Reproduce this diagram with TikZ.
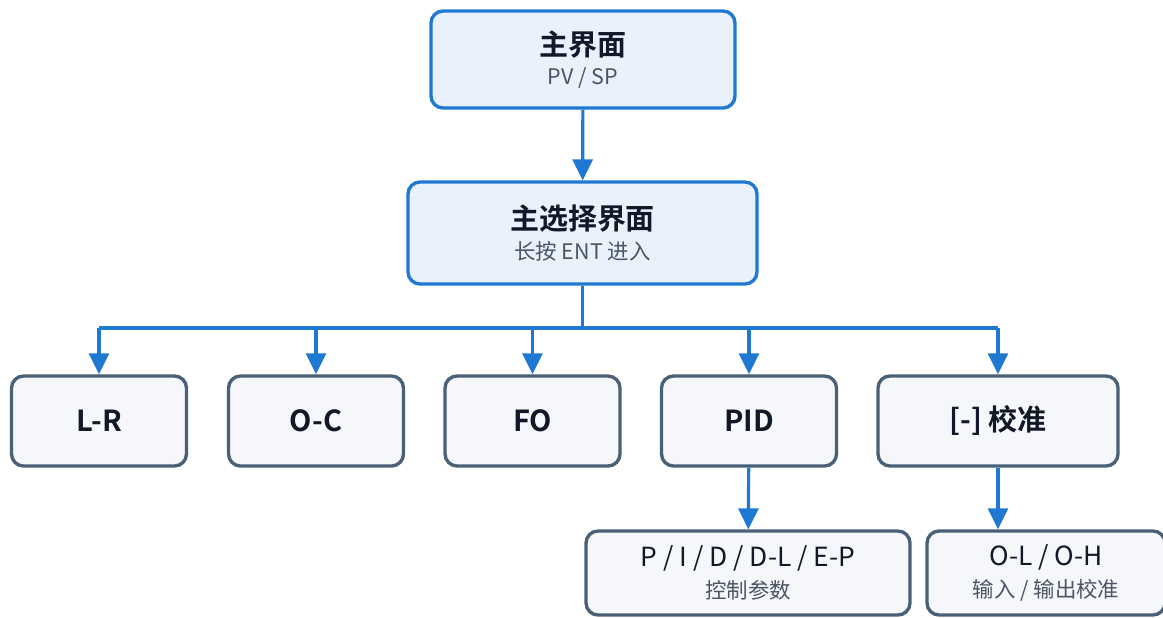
\documentclass[tikz,border=0pt]{standalone}
\usepackage{fontspec}
\setmainfont{Noto Sans CJK SC}[BoldFont=* Bold]
\usetikzlibrary{arrows.meta}
\definecolor{linkblue}{HTML}{1F78D1}
\definecolor{mainfill}{HTML}{E8F1FC}
\definecolor{slate}{HTML}{4A6076}
\definecolor{subfill}{HTML}{F5F7FB}
\definecolor{inkdark}{HTML}{111827}
\definecolor{inkgray}{HTML}{4B5563}
\newcommand{\titlefont}{\fontsize{16.5}{18}\selectfont\bfseries}
\newcommand{\notefont}{\fontsize{12.2}{14}\selectfont\color{inkgray}}

\begin{document}
\begin{tikzpicture}[
	mainbox/.style={draw=linkblue, fill=mainfill, line width=1.9pt, rounded corners=0.24cm, text=inkdark, align=center, inner sep=0pt},
	menubox/.style={draw=slate, fill=subfill, line width=1.9pt, rounded corners=0.24cm, text=inkdark, align=center, inner sep=0pt, minimum width=3.5cm, minimum height=1.8cm, font=\fontsize{16.5}{18}\selectfont\bfseries},
	parambox/.style={draw=slate, fill=subfill, line width=1.9pt, rounded corners=0.24cm, text=inkdark, align=center, inner sep=0pt, minimum height=1.68cm, font=\fontsize{15}{17}\selectfont},
	wire/.style={draw=linkblue, line width=1.8pt},
	link/.style={wire, -{Triangle[length=0.42cm,width=0.4cm]}}]
	\useasboundingbox (0,0) rectangle (23.26,12.34);
	\clip (0,0) rectangle (23.26,12.34);
	\node[mainbox, minimum width=6.08cm, minimum height=1.94cm] (main) at (11.66,11.15) {{\titlefont 主界面}\\[4.5pt]{\notefont PV / SP}};
	\node[mainbox, minimum width=6.98cm, minimum height=2.04cm] (sel) at (11.65,7.68) {{\titlefont 主选择界面}\\[5pt]{\notefont 长按 ENT 进入}};
	\node[menubox] (lr) at (1.98,3.92) {L-R};
	\node[menubox] (oc) at (6.32,3.92) {O-C};
	\node[menubox] (fo) at (10.65,3.92) {FO};
	\node[menubox] (pid) at (14.98,3.92) {PID};
	\node[menubox, minimum width=4.8cm] (cal) at (19.96,3.92) {[-] 校准};
	\node[parambox, minimum width=6.48cm] (pidsub) at (14.96,0.88) {P / I / D / D-L / E-P\\[1pt]{\notefont 控制参数}};
	\node[parambox, minimum width=4.76cm] (calsub) at (20.92,0.88) {O-L / O-H\\[1pt]{\notefont 输入 / 输出校准}};
	\coordinate (bus) at (11.65,5.78);
	\draw[link] (main) -- (sel);
	\draw[wire] (sel) -- (bus);
	\draw[wire] (lr |- bus) -- (cal |- bus);
	\foreach \n in {lr,oc,fo,pid,cal}
		\draw[link] (\n |- bus) -- (\n.north);
	\draw[link] (pid) -- (pidsub);
	\draw[link] (cal) -- (cal |- calsub.north);
\end{tikzpicture}
\end{document}
